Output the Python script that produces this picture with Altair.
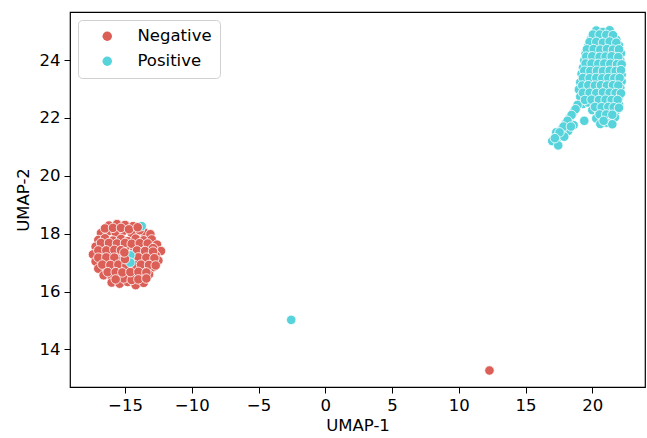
import altair as alt
import pandas as pd

# Negative cluster (left)
neg_x = [-16.2, -15.6, -15.0, -14.4, -16.8, -16.25, -15.7, -15.1, -14.5, -13.6, -13.1,
         -17.0, -16.5, -15.9, -15.3, -14.8, -14.2, -13.6, -13.0, -12.6,
         -17.2, -16.7, -16.1, -15.5, -14.9, -14.3, -13.8, -13.2,
         -17.4, -16.8, -16.2, -15.6, -15.1, -14.3, -13.9, -13.3, -12.3, -12.7,
         -17.2, -16.6, -16.0, -15.4, -14.2, -13.7, -13.1, -12.5,
         -17.0, -16.4, -15.8, -15.2, -14.6, -14.0, -13.5, -12.9,
         -16.6, -16.0, -15.5, -14.9, -14.3, -13.7, -13.2,
         -16.0, -15.4, -14.8, -14.2, -13.6, -15.1, -14.5,
         -16.5, -15.9, -15.3, -14.7, -13.9,
         -16.8, -16.2, -15.6, -15.0, -14.5, -13.9, -13.3, -12.9,
         -17.0, -16.4, -15.8, -15.3, -14.1, -13.5, -12.9,
         -17.0, -16.4, -15.8, -14.0, -13.4, -12.8,
         -16.7, -16.1, -15.5, -14.9, -14.3, -13.8, -13.2, -12.7,
         -16.3, -15.7, -15.2, -14.6, -14.0, -13.4,
         -15.7, -14.0, -13.4]
neg_y = [18.28, 18.33, 18.30, 18.26, 18.02, 18.08, 18.04, 18.10, 18.02, 18.06, 17.98,
         17.78, 17.84, 17.76, 17.82, 17.74, 17.83, 17.77, 17.80, 17.62,
         17.55, 17.50, 17.58, 17.52, 17.57, 17.49, 17.56, 17.51,
         17.28, 17.33, 17.26, 17.31, 17.36, 17.27, 17.34, 17.29, 17.40, 17.25,
         17.04, 17.08, 17.01, 17.06, 17.03, 17.09, 17.02, 17.07,
         16.79, 16.83, 16.77, 16.82, 16.76, 16.81, 16.78, 16.84,
         16.56, 16.52, 16.58, 16.51, 16.55, 16.53, 16.59,
         16.31, 16.27, 16.33, 16.22, 16.30, 16.45, 16.40,
         18.18, 18.20, 18.20, 18.15, 18.12,
         17.68, 17.68, 17.66, 17.68, 17.65, 17.67, 17.66, 17.50,
         17.42, 17.42, 17.44, 17.43, 17.42, 17.40, 17.38,
         17.17, 17.18, 17.17, 17.18, 17.17, 17.15,
         16.93, 16.92, 16.93, 16.90, 16.92, 16.93, 16.92, 16.90,
         16.67, 16.67, 16.66, 16.67, 16.68, 16.66,
         16.42, 16.42, 16.45]

# Positive points hidden inside the negative cluster
pos_in_neg_x = [-13.75, -14.6, -14.6]
pos_in_neg_y = [18.26, 17.25, 17.0]

# Negative points drawn over them
neg_cover_x = [-14.05, -15.0, -15.05]
neg_cover_y = [18.22, 17.12, 17.35]

# Negative points hidden inside the positive cluster
neg_in_pos_x = [20.7, 21.05]
neg_in_pos_y = [24.45, 22.9]

# Positive cluster (upper right)
pos_x = [20.3, 20.8, 21.3,
         19.9, 20.4, 20.9, 21.4, 21.8,
         19.7, 20.2, 20.7, 21.2, 21.6, 22.0,
         19.5, 19.95, 20.4, 20.9, 21.4, 21.8, 22.15,
         19.4, 19.8, 20.3, 20.8, 21.2, 21.7, 22.1,
         19.3, 19.7, 20.2, 20.7, 21.1, 21.6, 22.0,
         19.2, 19.6, 20.1, 20.6, 21.0, 21.5, 21.9, 22.2,
         19.1, 19.5, 20.0, 20.5, 20.9, 21.4, 21.8, 22.2,
         19.0, 19.5, 19.9, 20.4, 20.8, 21.3, 21.7, 22.1,
         19.1, 19.6, 20.1, 20.6, 21.1, 21.5, 22.0,
         19.3, 19.7, 20.3, 20.8, 21.2, 21.7, 22.0,
         20.0, 20.5, 21.0, 21.4, 21.8,
         20.3, 20.8, 21.3, 21.7,
         20.6, 21.1, 21.5,
         18.9, 18.6, 18.3, 18.0, 18.2, 17.7, 17.5, 17.9, 17.3, 17.0, 17.45, 19.4, 18.6,
         20.05, 20.55, 21.05, 21.55,
         19.8, 20.3, 20.8, 21.3, 21.8,
         19.6, 20.1, 20.6, 21.1, 21.55, 22.0,
         19.55, 20.0, 20.55, 21.0, 21.45, 21.95,
         19.5, 19.95, 20.45, 20.9, 21.35, 21.85, 22.2,
         19.4, 19.85, 20.35, 20.8, 21.3, 21.75, 22.15,
         19.3, 19.8, 20.3, 20.75, 21.2, 21.65, 22.05,
         19.25, 19.7, 20.2, 20.65, 21.1, 21.55, 21.95,
         19.3, 19.8, 20.3, 20.8, 21.3, 21.75, 22.15,
         19.45, 19.95, 20.5, 21.0, 21.45, 21.9,
         20.2, 20.7, 21.2, 21.6, 22.0,
         20.55, 21.05, 21.5,
         20.85,
         18.75, 18.45, 18.15, 17.85, 17.55, 17.2, 18.4]
pos_y = [25.02, 24.97, 25.03,
         24.72, 24.78, 24.74, 24.79, 24.70,
         24.48, 24.53, 24.46, 24.52, 24.47, 24.51,
         24.22, 24.28, 24.24, 24.29, 24.21, 24.27, 24.23,
         23.98, 24.03, 23.97, 24.02, 23.96, 24.04, 23.99,
         23.73, 23.78, 23.72, 23.77, 23.74, 23.79, 23.71,
         23.52, 23.47, 23.53, 23.48, 23.51, 23.46, 23.54, 23.49,
         23.23, 23.28, 23.22, 23.27, 23.24, 23.29, 23.21, 23.26,
         22.98, 23.03, 22.97, 23.02, 22.96, 23.01, 22.97, 23.04,
         22.73, 22.78, 22.72, 22.77, 22.74, 22.79, 22.71,
         22.48, 22.53, 22.47, 22.52, 22.46, 22.51, 22.45,
         22.27, 22.22, 22.28, 22.23, 22.26,
         21.98, 22.03, 21.97, 22.02,
         21.79, 21.83, 21.78,
         22.45, 22.2, 22.0, 21.8, 21.55, 21.6, 21.35, 21.35, 21.5, 21.2, 21.05, 21.9, 21.75,
         24.88, 24.88, 24.87, 24.86,
         24.62, 24.63, 24.60, 24.64, 24.60,
         24.37, 24.38, 24.36, 24.38, 24.36, 24.37,
         24.12, 24.13, 24.11, 24.12, 24.13, 24.10,
         23.88, 23.88, 23.87, 23.88, 23.87, 23.86, 23.85,
         23.63, 23.62, 23.63, 23.62, 23.63, 23.62, 23.65,
         23.38, 23.37, 23.38, 23.37, 23.38, 23.37, 23.38,
         23.12, 23.13, 23.12, 23.13, 23.12, 23.13, 23.12,
         22.87, 22.87, 22.86, 22.88, 22.87, 22.86, 22.85,
         22.62, 22.63, 22.62, 22.63, 22.62, 22.62,
         22.38, 22.37, 22.38, 22.37, 22.35,
         22.12, 22.12, 22.11,
         21.90,
         22.30, 22.10, 21.90, 21.70, 21.50, 21.30, 21.70]

# Isolated points
out_pos_x = [-2.55]
out_pos_y = [15.02]
out_neg_x = [12.3]
out_neg_y = [13.27]

x_ticks = [-15, -10, -5, 0, 5, 10, 15, 20]
y_ticks = [14, 16, 18, 20, 22, 24]


def part(xs, ys, label):
    return pd.DataFrame({"x": xs, "y": ys, "label": label})


df = pd.concat([
    part(neg_in_pos_x, neg_in_pos_y, "Negative"),
    part(pos_x, pos_y, "Positive"),
    part(neg_x, neg_y, "Negative"),
    part(pos_in_neg_x, pos_in_neg_y, "Positive"),
    part(neg_cover_x, neg_cover_y, "Negative"),
    part(out_pos_x, out_pos_y, "Positive"),
    part(out_neg_x, out_neg_y, "Negative"),
], ignore_index=True)

FONT = "DejaVu Sans"

chart = alt.Chart(df).mark_point(
    filled=True, size=90, opacity=1, stroke="white", strokeWidth=0.8
).encode(
    x=alt.X("x:Q", title="UMAP-1",
            scale=alt.Scale(domain=[-19.12, 23.95], nice=False, zero=False),
            axis=alt.Axis(values=x_ticks, grid=False, format="d")),
    y=alt.Y("y:Q", title="UMAP-2",
            scale=alt.Scale(domain=[12.70, 25.66], nice=False, zero=False),
            axis=alt.Axis(values=y_ticks, grid=False, format="d")),
    color=alt.Color("label:N",
                    scale=alt.Scale(domain=["Negative", "Positive"],
                                    range=["#db5f57", "#57d3db"]),
                    legend=alt.Legend(
                        title=None, orient="none", legendX=8, legendY=8,
                        padding=8, strokeColor="#d0d0d0", fillColor="white",
                        cornerRadius=4, labelFontSize=16.5, labelFont=FONT,
                        labelColor="black", symbolType="circle", symbolSize=90,
                        symbolStrokeWidth=0, symbolOffset=13, labelOffset=22,
                        rowPadding=8)),
).properties(
    width=575, height=375,
    autosize=alt.AutoSizeParams(type="none"),
    padding={"left": 70, "top": 12, "right": 2, "bottom": 51},
).configure_view(
    stroke="black", strokeWidth=1.2
).configure_axis(
    domain=False, tickColor="black", tickSize=6, tickWidth=1,
    labelFont=FONT, titleFont=FONT, labelFontSize=16.5, titleFontSize=16.5,
    labelColor="black", titleColor="black", titleFontWeight="normal",
    labelPadding=4,
).configure_axisX(titlePadding=4).configure_axisY(titlePadding=8)

chart.save("out.html", embed_options={"renderer": "svg", "actions": False})
